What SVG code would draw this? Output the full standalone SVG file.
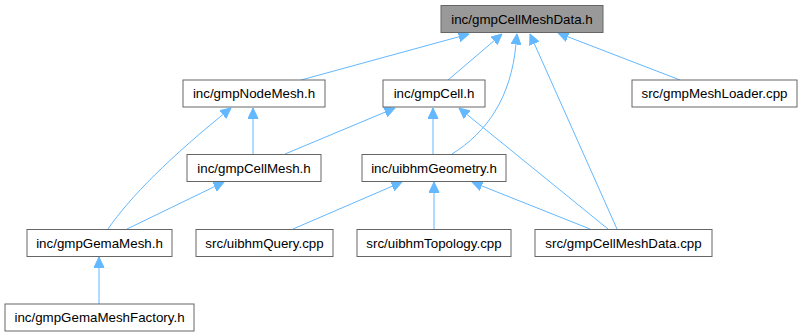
<svg xmlns="http://www.w3.org/2000/svg" width="802" height="336" viewBox="0 0 802 336">
<defs>
<marker id="ah" markerWidth="11" markerHeight="11" viewBox="0 0 11 11" refX="10.5" refY="5.5" orient="auto" markerUnits="userSpaceOnUse">
<path d="M0,0.5 L10.5,5.5 L0,10.5 Z" fill="#63b8ff" stroke="#63b8ff" stroke-width="1"/>
</marker>
<style>
.n rect{fill:#ffffff;stroke:#666666;stroke-width:1}
.n.root rect{fill:#999999}
.n text{font-family:"Liberation Sans",Arial,sans-serif;font-size:13.33px;fill:#000000;text-anchor:middle}
.e path{fill:none;stroke:#63b8ff;stroke-width:1;marker-end:url(#ah)}
</style>
</defs>
<rect width="802" height="336" fill="#ffffff"/>
<g id="edges" class="e">
<path d="M301,80 L469,34"/>
<path d="M448,80 L502,34"/>
<path d="M452,154 C487,132 511,98 516,44 L517,34"/>
<path d="M617,229 L530,34"/>
<path d="M680,80 L558,33"/>
<path d="M285,154 L395,108"/>
<path d="M253,154 L253,108"/>
<path d="M108,229 C130,197 170,157 231,108"/>
<path d="M127,229 L224,182"/>
<path d="M433,154 L433,108"/>
<path d="M608,229 L459,108"/>
<path d="M590,229 L472,182"/>
<path d="M293,229 L402,182"/>
<path d="M434,229 L434,182"/>
<path d="M99,304 L99,257"/>
</g>
<g id="n_gmpCellMeshData_h" class="n root"><rect x="441" y="5.5" width="162" height="27"/><text x="522" y="23.5">inc/gmpCellMeshData.h</text></g>
<g id="n_gmpNodeMesh_h" class="n"><rect x="183" y="80" width="142" height="27"/><text x="254" y="98">inc/gmpNodeMesh.h</text></g>
<g id="n_gmpCell_h" class="n"><rect x="383" y="80" width="102" height="27"/><text x="434" y="98">inc/gmpCell.h</text></g>
<g id="n_gmpMeshLoader_cpp" class="n"><rect x="632" y="80" width="165" height="27"/><text x="714.5" y="98">src/gmpMeshLoader.cpp</text></g>
<g id="n_gmpCellMesh_h" class="n"><rect x="187" y="154.5" width="134" height="27"/><text x="254" y="172.5">inc/gmpCellMesh.h</text></g>
<g id="n_uibhmGeometry_h" class="n"><rect x="362" y="154.5" width="144" height="27"/><text x="434" y="172.5">inc/uibhmGeometry.h</text></g>
<g id="n_gmpGemaMesh_h" class="n"><rect x="27" y="229.5" width="145" height="27"/><text x="99.5" y="247.5">inc/gmpGemaMesh.h</text></g>
<g id="n_uibhmQuery_cpp" class="n"><rect x="196" y="229.5" width="137" height="27"/><text x="264.5" y="247.5">src/uibhmQuery.cpp</text></g>
<g id="n_uibhmTopology_cpp" class="n"><rect x="357" y="229.5" width="154" height="27"/><text x="434" y="247.5">src/uibhmTopology.cpp</text></g>
<g id="n_gmpCellMeshData_cpp" class="n"><rect x="535" y="229.5" width="177" height="27"/><text x="623.5" y="247.5">src/gmpCellMeshData.cpp</text></g>
<g id="n_gmpGemaMeshFactory_h" class="n"><rect x="5" y="304" width="189" height="27"/><text x="99.5" y="322">inc/gmpGemaMeshFactory.h</text></g>
</svg>
